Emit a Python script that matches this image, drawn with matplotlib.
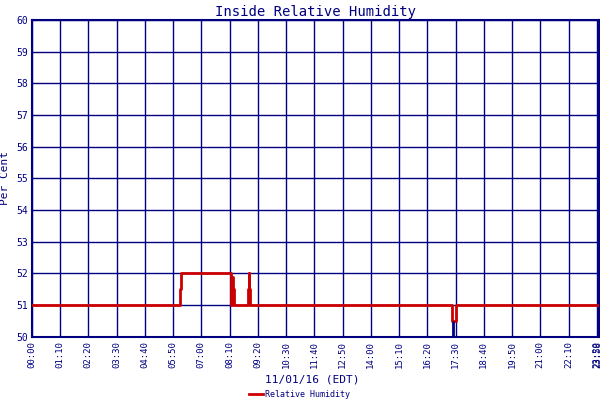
import matplotlib
matplotlib.use("Agg")
import matplotlib.pyplot as plt

# minutes since midnight, relative humidity (%)
times = [0, 366, 369, 372, 492, 494, 496, 498, 500, 535, 537, 539, 541, 543, 1041, 1043, 1050, 1052, 1404]
rh    = [51, 51.5, 52, 52, 52, 51.0, 51.9, 51.5, 51, 51.5, 52, 51.5, 51, 51, 50.5, 50.5, 50.5, 51, 51]

tick_min = list(range(0, 1404, 70)) + [1402]
tick_lab = [f"{m//60:02d}:{m%60:02d}" for m in range(0, 1404, 70)] + ["23:58"]

navy = "#000080"
fig = plt.figure(figsize=(6, 4), dpi=100)
ax = fig.add_axes([0.053, 0.158, 0.945, 0.792])
ax.step(times, rh, where="post", color="#cc0000", lw=2, zorder=3)
ax.vlines(1044, 50, 50.5, color=navy, lw=2, zorder=4)
ax.set_xlim(0, 1405)
ax.set_ylim(50, 60)
ax.set_yticks(range(50, 61))
ax.set_xticks(tick_min)
ax.set_xticklabels(tick_lab, rotation=90, family="DejaVu Sans Mono", fontsize=6.5, color=navy)
for t in ax.get_yticklabels():
    t.set_family("DejaVu Sans Mono"); t.set_fontsize(7); t.set_color(navy)
ax.grid(True, color=navy, lw=1)
for s in ax.spines.values():
    s.set_color(navy); s.set_linewidth(1.5)
ax.tick_params(colors=navy, length=0, pad=3)
ax.set_title("Inside Relative Humidity", family="DejaVu Sans Mono", fontsize=10, color=navy, pad=3)
ax.set_ylabel("Per Cent", family="DejaVu Sans Mono", fontsize=8, color=navy)
fig.text(0.52, 0.045, "11/01/16 (EDT)", ha="center", family="DejaVu Sans Mono", fontsize=8, color=navy)
fig.lines.append(plt.Line2D([0.415, 0.438], [0.014, 0.014], color="#cc0000", lw=2, transform=fig.transFigure))
fig.text(0.442, 0.014, "Relative Humidity", va="center", family="DejaVu Sans Mono", fontsize=6, color=navy)
fig.savefig("out.png")
